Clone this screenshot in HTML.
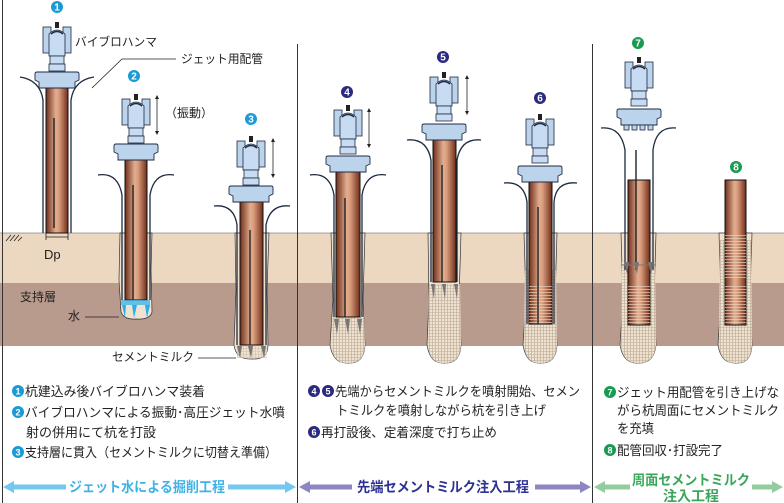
<!DOCTYPE html>
<html><head><meta charset="utf-8"><style>
html,body{margin:0;padding:0;background:#fff;}
svg{display:block;font-family:"Liberation Sans","Noto Sans CJK JP",sans-serif;}
</style></head><body>
<svg width="784" height="503" viewBox="0 0 784 503" xmlns="http://www.w3.org/2000/svg">
<defs>
<linearGradient id="pg" x1="0" x2="1" y1="0" y2="0">
<stop offset="0" stop-color="#6e2e1a"/><stop offset="0.45" stop-color="#e2ae90"/><stop offset="0.6" stop-color="#d89a7a"/><stop offset="1" stop-color="#6e2e1a"/>
</linearGradient>
<pattern id="hx" width="3" height="3" patternUnits="userSpaceOnUse">
<rect width="3" height="3" fill="#efe3d0"/><path d="M0 0.5H3M0.5 0V3" stroke="#b9a896" stroke-width="0.6"/>
</pattern>
<pattern id="hl" width="4" height="3" patternUnits="userSpaceOnUse">
<path d="M0 1.5H4" stroke="#ead8c8" stroke-width="0.8" opacity="0.8"/>
</pattern>
<g id="ham">
<rect x="12" y="0" width="4" height="6" fill="#222"/>
<rect x="0" y="5" width="8" height="26" fill="#bcd3ec" stroke="#1e2a40" stroke-width="0.8"/>
<rect x="20" y="5" width="8" height="26" fill="#bcd3ec" stroke="#1e2a40" stroke-width="0.8"/>
<path d="M6 12 Q14 4 22 12 L22 34 L6 34Z" fill="#c7dcf2" stroke="#1e2a40" stroke-width="0.8"/>
<path d="M8 12 Q14 7 20 12" fill="none" stroke="#1e2a40" stroke-width="1.5"/>
<rect x="7" y="34" width="14" height="8" fill="#c7dcf2" stroke="#1e2a40" stroke-width="0.8"/>
<rect x="6" y="42" width="16" height="7" fill="#c7dcf2" stroke="#1e2a40" stroke-width="0.8"/>
</g>
<g id="cap">
<path d="M0 2 Q0 0 2 0 H42 Q44 0 44 2 V8 L40 10 V16 H4 V10 L0 8Z" fill="#bcd3ec" stroke="#1e2a40" stroke-width="0.9"/>
</g>
<g id="arr">
<line x1="0" y1="2" x2="0" y2="38" stroke="#222" stroke-width="0.8"/>
<path d="M-2 4 L0 0 L2 4Z M-2 36 L0 40 L2 36Z" fill="#222"/>
</g>
</defs>

<rect x="0" y="233" width="784" height="50" fill="#ecd8c0"/>
<rect x="0" y="283" width="784" height="63" fill="#b89b8d"/>
<line x1="0" y1="233" x2="784" y2="233" stroke="#555" stroke-width="0.6"/>
<path d="M6 241 L11 235 M10 241 L15 235 M14 241 L19 235 M18 241 L22 237" stroke="#222" stroke-width="0.8"/>

<line x1="2.5" y1="0" x2="2.5" y2="503" stroke="#333" stroke-width="1"/>
<line x1="297.5" y1="44" x2="297.5" y2="503" stroke="#333" stroke-width="1"/>
<line x1="592.5" y1="44" x2="592.5" y2="503" stroke="#333" stroke-width="1"/>

<path d="M120 233 L119 280 L121 312 Q124 320 136 319 Q150 320 152 312 L151 270 L152 233Z" fill="#efe2d0" stroke="#333" stroke-width="0.7"/>
<path d="M235 233 L236 290 L234 345 Q236 360 252 359 Q268 360 268 345 L267 290 L269 233Z" fill="#efe2d0" stroke="#333" stroke-width="0.7"/>
<path d="M331 233 L333 300 L330 345 Q333 364 348 363 Q364 364 365 345 L363 300 L365 233Z" fill="#efe2d0" stroke="#333" stroke-width="0.7"/>
<path d="M428 233 L429 300 L427 345 Q430 364 444 363 Q460 364 461 345 L459 300 L461 233Z" fill="#efe2d0" stroke="#333" stroke-width="0.7"/>
<path d="M524 233 L526 300 L523 345 Q526 364 540 363 Q556 364 557 345 L555 300 L557 233Z" fill="#efe2d0" stroke="#333" stroke-width="0.7"/>
<path d="M621 233 L623 300 L620 345 Q623 364 638 363 Q654 364 656 345 L654 300 L656 233Z" fill="#efe2d0" stroke="#333" stroke-width="0.7"/>
<path d="M719 233 L721 300 L718 345 Q721 364 736 363 Q751 364 752 345 L750 300 L752 233Z" fill="#efe2d0" stroke="#333" stroke-width="0.7"/>
<path d="M332 317 L331 345 Q333 364 348 363 Q364 364 365 345 L364 317Z" fill="url(#hx)"/>
<path d="M429 284 L428 345 Q430 364 444 363 Q460 364 461 345 L460 284Z" fill="url(#hx)"/>
<path d="M525 270 L524 345 Q526 364 540 363 Q556 364 557 345 L556 270Z" fill="url(#hx)"/>
<path d="M622 262 L621 345 Q623 364 638 363 Q654 364 656 345 L655 262Z" fill="url(#hx)"/>
<path d="M720 240 L719 345 Q721 364 736 363 Q751 364 752 345 L751 240Z" fill="url(#hx)"/>
<rect x="237" y="345" width="30" height="13" fill="url(#hx)" opacity="0.6"/>

<g fill="none" stroke="#1e2a40" stroke-width="1.3">
<path d="M20 77 Q40 80 43 100 V233 M94 77 Q74 80 71 100 V233"/>
<path d="M98 175 Q118 172 122 195 V300 M174 175 Q154 172 150 195 V300"/>
<path d="M214 206 Q234 204 237 225 V345 M290 206 Q270 204 266 225 V345"/>
<path d="M310 175 Q330 172 334 195 V317 M386 175 Q366 172 362 195 V317"/>
<path d="M407 140 Q427 138 431 160 V282 M481 140 Q461 138 457 160 V282"/>
<path d="M504 183 Q524 181 527 202 V324 M577 183 Q556 181 554 202 V324"/>
<path d="M601 128 Q621 126 625 150 V270 M676 128 Q656 126 653 150 V270"/>
</g>

<g stroke="#111" stroke-width="1">
<rect x="46" y="88" width="22" height="145" fill="url(#pg)"/>
<rect x="125" y="160" width="22" height="140" fill="url(#pg)"/>
<rect x="240" y="202" width="23" height="143" fill="url(#pg)"/>
<rect x="336" y="172" width="24" height="145" fill="url(#pg)"/>
<rect x="433" y="140" width="23" height="142" fill="url(#pg)"/>
<rect x="529" y="182" width="23" height="142" fill="url(#pg)"/>
<rect x="628" y="180" width="22" height="145" fill="url(#pg)"/>
<rect x="725" y="180" width="21" height="145" fill="url(#pg)"/>
</g>
<rect x="529" y="285" width="23" height="39" fill="url(#hl)"/>
<rect x="628" y="285" width="22" height="40" fill="url(#hl)"/>
<rect x="725" y="235" width="21" height="45" fill="url(#hl)"/>
<rect x="725" y="285" width="21" height="40" fill="url(#hl)"/>
<g stroke="#222" stroke-width="1.4">
<line x1="54" y1="118" x2="54" y2="228"/>
<line x1="133" y1="185" x2="133" y2="300"/>
<line x1="250" y1="230" x2="250" y2="345"/>
<line x1="345" y1="198" x2="345" y2="317"/>
<line x1="442" y1="165" x2="442" y2="282"/>
<line x1="538" y1="207" x2="538" y2="324"/>
<line x1="636" y1="150" x2="636" y2="270"/>
</g>
<g fill="#29b0ea">
<path d="M121 300 H150 V305 H121Z" opacity="0.7"/>
<path d="M122 305 L126 305 L125 318 Z M132 305 L137 305 L134 318Z M145 305 L150 305 L147 318Z"/>
</g>
<g fill="#7a7472">
<path d="M237 346 L242 346 L240 358Z M248 346 L253 346 L251 358Z M261 346 L266 346 L264 358Z"/>
<path d="M334 319 L339 319 L337 334Z M345 319 L350 319 L348 334Z M357 319 L362 319 L360 334Z"/>
<path d="M431 284 L435 284 L434 299Z M442 284 L446 284 L445 299Z M454 284 L458 284 L457 299Z"/>
<path d="M624 262 L629 262 L627 274Z M634 262 L639 262 L637 274Z M648 262 L653 262 L651 274Z"/>
</g>
<line x1="621" y1="265" x2="656" y2="265" stroke="#777" stroke-width="1"/>

<use href="#ham" x="43" y="22"/><use href="#cap" x="35" y="72"/>
<use href="#ham" x="122" y="94"/><use href="#cap" x="114" y="144"/>
<use href="#ham" x="237" y="136"/><use href="#cap" x="229" y="186"/>
<use href="#ham" x="334" y="105"/><use href="#cap" x="326" y="156"/>
<use href="#ham" x="430" y="72"/><use href="#cap" x="422" y="124"/>
<use href="#ham" x="526" y="114"/><use href="#cap" x="518" y="166"/>
<use href="#ham" x="625" y="57"/><use href="#cap" x="617" y="109"/>
<g fill="#bcd3ec" stroke="#1e2a40" stroke-width="0.8">
<rect x="624" y="125" width="5" height="5"/><rect x="632" y="125" width="5" height="5"/><rect x="640" y="125" width="5" height="5"/><rect x="648" y="125" width="5" height="5"/>
</g>

<use href="#arr" x="157" y="95"/>
<use href="#arr" x="273" y="138"/>
<use href="#arr" x="369" y="108"/>
<use href="#arr" x="467" y="75"/>

<g font-size="10" font-weight="bold" text-anchor="middle" fill="#fff">
<circle cx="57" cy="7" r="6" fill="#1a9ad6"/><text x="57" y="10.5">1</text>
<circle cx="134" cy="76" r="6" fill="#1a9ad6"/><text x="134" y="79.5">2</text>
<circle cx="251" cy="119" r="6" fill="#1a9ad6"/><text x="251" y="122.5">3</text>
<circle cx="347" cy="92" r="6" fill="#2a2a80"/><text x="347" y="95.5">4</text>
<circle cx="443" cy="57" r="6" fill="#2a2a80"/><text x="443" y="60.5">5</text>
<circle cx="540" cy="98" r="6" fill="#2a2a80"/><text x="540" y="101.5">6</text>
<circle cx="638" cy="43" r="6" fill="#1a9a50"/><text x="638" y="46.5">7</text>
<circle cx="736" cy="167" r="6" fill="#1a9a50"/><text x="736" y="170.5">8</text>
</g>

<g font-size="12" fill="#222">
<text x="75" y="46" textLength="82" lengthAdjust="spacingAndGlyphs">バイブロハンマ</text>
<text x="181" y="63" textLength="82" lengthAdjust="spacingAndGlyphs">ジェット用配管</text>
<text x="165" y="117">（振動）</text>
<text x="44" y="259" font-size="13">Dp</text>
<text x="20" y="301">支持層</text>
<text x="68" y="320">水</text>
<text x="112" y="361" textLength="82" lengthAdjust="spacingAndGlyphs">セメントミルク</text>
</g>
<g stroke="#222" stroke-width="0.8" fill="none">
<path d="M176 59 H122 L92 88"/>
<line x1="85" y1="317" x2="119" y2="317"/>
<line x1="198" y1="358" x2="236" y2="358"/>
<line x1="46" y1="237" x2="68" y2="237"/>
<line x1="46" y1="233" x2="46" y2="240"/><line x1="68" y1="233" x2="68" y2="240"/>
</g>

<g font-size="13" fill="#222" lengthAdjust="spacingAndGlyphs">
<circle cx="18" cy="391" r="6" fill="#1a9ad6"/><text x="25" y="396" textLength="180" lengthAdjust="spacingAndGlyphs">杭建込み後バイブロハンマ装着</text>
<circle cx="18" cy="412" r="6" fill="#1a9ad6"/><text x="25" y="417" textLength="260" lengthAdjust="spacingAndGlyphs">バイブロハンマによる振動･高圧ジェット水噴</text>
<text x="26" y="437" textLength="130" lengthAdjust="spacingAndGlyphs">射の併用にて杭を打設</text>
<circle cx="18" cy="452" r="6" fill="#1a9ad6"/><text x="25" y="457" textLength="252" lengthAdjust="spacingAndGlyphs">支持層に貫入（セメントミルクに切替え準備）</text>

<circle cx="314" cy="391" r="6" fill="#2a2a80"/><circle cx="328" cy="391" r="6" fill="#2a2a80"/><text x="335" y="396" textLength="245" lengthAdjust="spacingAndGlyphs">先端からセメントミルクを噴射開始、セメン</text>
<text x="336" y="415" textLength="210" lengthAdjust="spacingAndGlyphs">トミルクを噴射しながら杭を引き上げ</text>
<circle cx="314" cy="432" r="6" fill="#2a2a80"/><text x="321" y="437" textLength="176" lengthAdjust="spacingAndGlyphs">再打設後、定着深度で打ち止め</text>

<circle cx="610" cy="392" r="6" fill="#1a9a50"/><text x="617" y="397" textLength="162" lengthAdjust="spacingAndGlyphs">ジェット用配管を引き上げな</text>
<text x="617" y="415" textLength="162" lengthAdjust="spacingAndGlyphs">がら杭周面にセメントミルク</text>
<text x="617" y="433" textLength="37" lengthAdjust="spacingAndGlyphs">を充填</text>
<circle cx="610" cy="450" r="6" fill="#1a9a50"/><text x="617" y="455" textLength="106" lengthAdjust="spacingAndGlyphs">配管回収･打設完了</text>
</g>
<g font-size="9" font-weight="bold" text-anchor="middle" fill="#fff">
<text x="18" y="394.5">1</text><text x="18" y="415.5">2</text><text x="18" y="455.5">3</text>
<text x="314" y="394.5">4</text><text x="328" y="394.5">5</text><text x="314" y="435.5">6</text>
<text x="610" y="395.5">7</text><text x="610" y="453.5">8</text>
</g>

<g stroke-width="5">
<line x1="12" y1="487" x2="66" y2="487" stroke="#74c7ef"/><line x1="228" y1="487" x2="286" y2="487" stroke="#74c7ef"/>
<line x1="308" y1="487" x2="352" y2="487" stroke="#8c86c2"/><line x1="535" y1="487" x2="580" y2="487" stroke="#8c86c2"/>
<line x1="603" y1="487" x2="630" y2="487" stroke="#93cc9f"/><line x1="752" y1="487" x2="773" y2="487" stroke="#93cc9f"/>
</g>
<path d="M3 487 L14 481 L14 493Z M296 487 L285 481 L285 493Z" fill="#74c7ef"/>
<path d="M299 487 L310 481 L310 493Z M591 487 L580 481 L580 493Z" fill="#8c86c2"/>
<path d="M594 487 L605 481 L605 493Z M783 487 L772 481 L772 493Z" fill="#93cc9f"/>
<g font-size="14" font-weight="bold" text-anchor="middle">
<text x="147" y="492" fill="#3fb2e6" textLength="156" lengthAdjust="spacingAndGlyphs">ジェット水による掘削工程</text>
<text x="443" y="492" fill="#2e3192" textLength="172" lengthAdjust="spacingAndGlyphs">先端セメントミルク注入工程</text>
<text x="691" y="485" fill="#3aa65a" textLength="118" lengthAdjust="spacingAndGlyphs">周面セメントミルク</text>
<text x="691" y="501" fill="#3aa65a">注入工程</text>
</g>
</svg>
</body></html>
